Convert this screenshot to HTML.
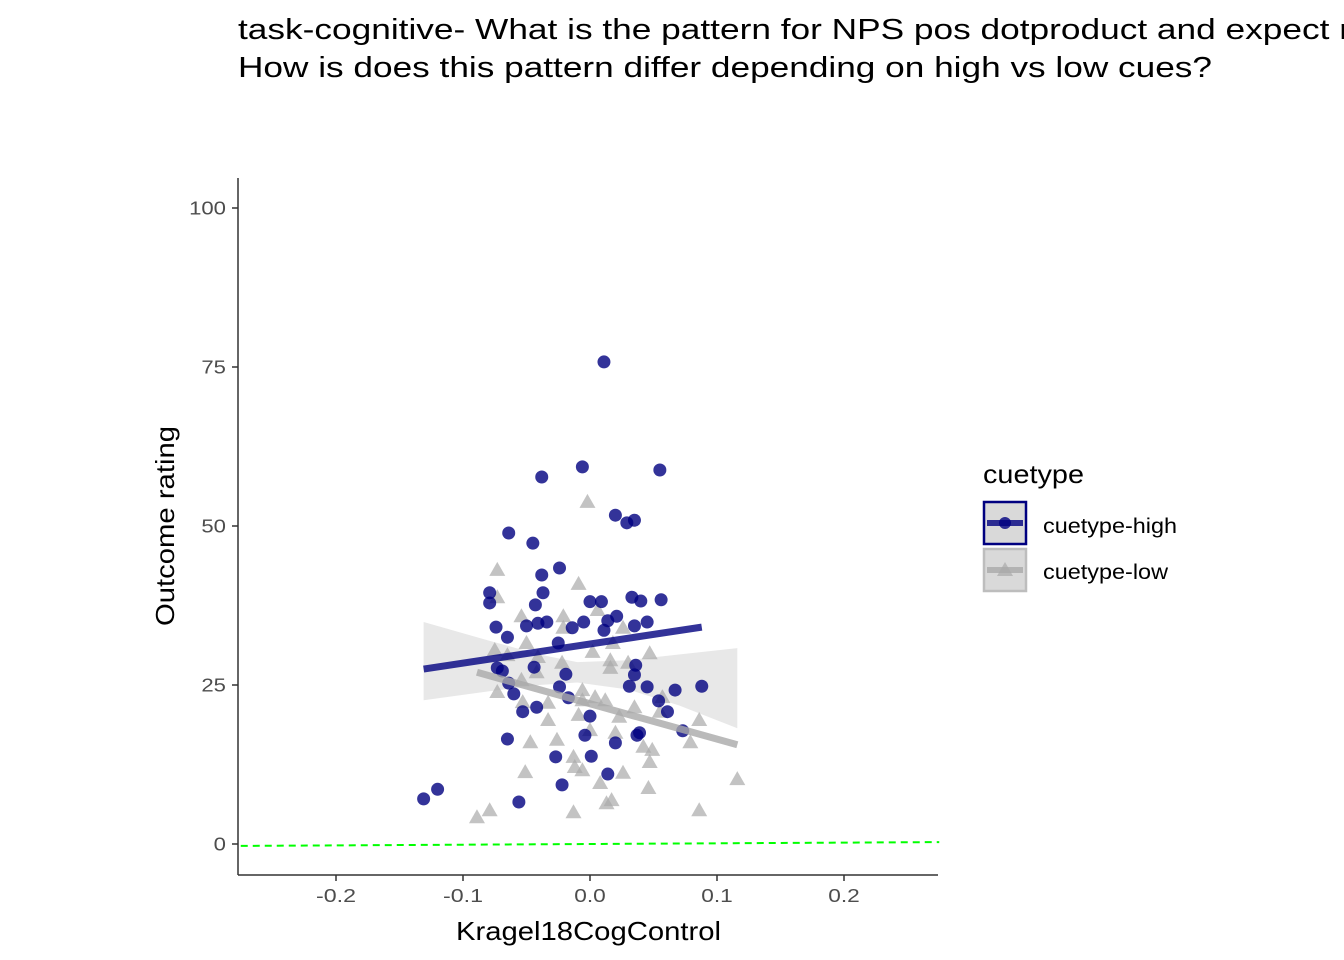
<!DOCTYPE html>
<html><head><meta charset="utf-8">
<style>
html,body{margin:0;padding:0;background:#fff;}
body{width:1344px;height:960px;overflow:hidden;position:relative;font-family:"Liberation Sans",Arial,sans-serif;}
</style></head>
<body>
<svg id="chart" width="1344" height="960" style="position:absolute;left:0;top:0" xmlns="http://www.w3.org/2000/svg">
<text x="238" y="39" font-size="29" font-family="Liberation Sans, sans-serif" textLength="1209" lengthAdjust="spacingAndGlyphs">task-cognitive- What is the pattern for NPS pos dotproduct and expect rating?</text>
<text x="238" y="77" font-size="29" font-family="Liberation Sans, sans-serif" textLength="974" lengthAdjust="spacingAndGlyphs">How is does this pattern differ depending on high vs low cues?</text>
</svg>
<script>
const xTicks=[-0.2,-0.1,0.0,0.1,0.2];
const xTickLabels=["-0.2","-0.1","0.0","0.1","0.2"];
const yTicks=[0,25,50,75,100];
const yTickLabels=["0","25","50","75","100"];
const highX=[0.011,-0.006,0.055,-0.038,0.020,0.029,0.035,-0.064,-0.045,-0.024,-0.038,-0.079,-0.079,-0.037,-0.043,0.000,0.009,0.033,0.040,0.056,-0.074,-0.065,-0.050,-0.041,-0.034,-0.014,-0.005,0.014,0.021,0.011,0.035,0.045,-0.025,-0.073,-0.069,-0.044,-0.019,0.036,0.035,-0.064,-0.060,-0.024,-0.017,0.031,0.045,0.067,0.088,0.054,0.061,-0.042,-0.053,0.000,0.073,-0.004,0.037,0.039,0.020,-0.065,-0.027,0.001,0.014,-0.022,-0.131,-0.120,-0.056];
const highY=[75.8,59.3,58.8,57.7,51.7,50.5,50.9,48.9,47.3,43.4,42.3,39.5,37.9,39.5,37.6,38.1,38.1,38.8,38.2,38.4,34.1,32.5,34.3,34.7,34.9,34.0,34.9,35.1,35.8,33.6,34.3,34.9,31.6,27.7,27.2,27.8,26.7,28.1,26.6,25.3,23.6,24.7,23.0,24.8,24.7,24.2,24.8,22.5,20.8,21.5,20.8,20.1,17.8,17.1,17.1,17.5,15.9,16.5,13.7,13.8,11.0,9.3,7.1,8.6,6.6];
const lowX=[-0.009,-0.002,-0.073,-0.073,-0.054,-0.021,0.006,0.026,-0.021,-0.050,-0.075,-0.065,-0.041,0.002,0.018,0.047,-0.022,0.016,0.016,0.030,-0.042,-0.054,-0.073,-0.006,0.004,0.012,-0.006,-0.053,-0.033,0.035,0.057,0.055,-0.009,-0.033,0.023,0.086,0.000,0.020,-0.047,-0.026,0.079,0.042,0.049,-0.013,0.047,-0.012,-0.006,-0.051,0.026,0.008,0.046,0.116,0.017,0.013,-0.013,0.086,-0.079,-0.089];
const lowY=[40.9,53.8,43.1,38.8,35.8,35.8,36.8,34.0,34.0,31.6,30.5,29.7,29.4,30.2,31.6,30.0,28.5,28.9,27.7,28.5,27.0,25.8,23.9,24.2,23.1,22.6,22.6,22.3,22.2,21.5,23.1,20.8,20.3,19.5,20.0,19.5,17.9,17.5,16.0,16.4,16.0,15.3,14.8,13.7,12.9,12.1,11.6,11.3,11.2,9.6,8.8,10.2,6.9,6.4,5.0,5.3,5.3,4.2];
const highFitX=[-0.131,0.088];
const highFitY=[27.5,34.1];
const lowFitX=[-0.089,0.116];
const lowFitY=[27.0,15.6];
const ribbonX=[-0.131,-0.08,-0.04,-0.01,0.03,0.07,0.116];
const ribbonHi=[34.9,32.0,29.8,28.6,28.9,29.8,30.8];
const ribbonLo=[22.6,24.0,25.0,25.4,24.3,21.8,18.2];
const refX=[-0.275,0.275];
const refY=[-0.3,0.3];

const NS="http://www.w3.org/2000/svg";
const svg=document.getElementById('chart');
const xs=v=>590+v*1270;
const ys=v=>844-v*6.36;
function mk(tag,attrs){const e=document.createElementNS(NS,tag);for(const k in attrs)e.setAttribute(k,attrs[k]);svg.appendChild(e);return e;}
const FF='Liberation Sans, sans-serif';

let pts=[];
for(let i=0;i<ribbonX.length;i++)pts.push(xs(ribbonX[i])+','+ys(ribbonHi[i]));
for(let i=ribbonX.length-1;i>=0;i--)pts.push(xs(ribbonX[i])+','+ys(ribbonLo[i]));
let rb=mk('polygon',{points:pts.join(' '),fill:'#bebebe','fill-opacity':0.35});



let rl=mk('line',{x1:xs(refX[0]),y1:ys(refY[0]),x2:xs(refX[1]),y2:ys(refY[1]),stroke:'#00ff00','stroke-width':2,'stroke-dasharray':'7,5'});



for(let i=0;i<lowX.length;i++){
  const cx=xs(lowX[i]),cy=ys(lowY[i]);
  const t=mk('polygon',{points:`${cx},${cy-8} ${cx-8},${cy+6} ${cx+8},${cy+6}`,fill:'#a9a9a9','fill-opacity':0.7});
  
  
}
for(let i=0;i<highX.length;i++){
  const c=mk('circle',{cx:xs(highX[i]),cy:ys(highY[i]),r:6.5,fill:'#000080','fill-opacity':0.8});
  
  
}
let hl=mk('line',{x1:xs(highFitX[0]),y1:ys(highFitY[0]),x2:xs(highFitX[1]),y2:ys(highFitY[1]),stroke:'#000080','stroke-opacity':0.8,'stroke-width':7});


let ll=mk('line',{x1:xs(lowFitX[0]),y1:ys(lowFitY[0]),x2:xs(lowFitX[1]),y2:ys(lowFitY[1]),stroke:'#a9a9a9','stroke-opacity':0.8,'stroke-width':7});



let ya=mk('line',{x1:238,y1:178,x2:238,y2:875,stroke:'#333','stroke-width':1.5});


let xa=mk('line',{x1:238,y1:875,x2:938,y2:875,stroke:'#333','stroke-width':1.5});


for(let i=0;i<xTicks.length;i++){
  const x=xs(xTicks[i]);
  const tk=mk('line',{x1:x,y1:875,x2:x,y2:881,stroke:'#333','stroke-width':1.5});
  
  
  const lab=xTickLabels[i];
  const tl=mk('text',{x:x,y:902,'text-anchor':'middle','font-size':18,fill:'#4d4d4d','font-family':FF,textLength:lab.length*10.5-(lab[0]==='-'?2:0),lengthAdjust:'spacingAndGlyphs'});
  tl.textContent=lab;
  
  
}
for(let i=0;i<yTicks.length;i++){
  const y=ys(yTicks[i]);
  const tk=mk('line',{x1:232,y1:y,x2:238,y2:y,stroke:'#333','stroke-width':1.5});
  
  
  const lab=yTickLabels[i];
  const tl=mk('text',{x:226,y:y+6.5,'text-anchor':'end','font-size':18,fill:'#4d4d4d','font-family':FF,textLength:lab.length*12.3,lengthAdjust:'spacingAndGlyphs'});
  tl.textContent=lab;
  
  
}
let xt=mk('text',{x:456,y:940,'font-size':26,fill:'#000','font-family':FF,textLength:265,lengthAdjust:'spacingAndGlyphs'});
xt.textContent='Kragel18CogControl';


let yt=mk('text',{x:-100,y:0,'font-size':26,fill:'#000','font-family':FF,textLength:200,lengthAdjust:'spacingAndGlyphs',transform:'translate(174,526) rotate(-90)'});
yt.textContent='Outcome rating';



let lt=mk('text',{x:983,y:483,'font-size':26,fill:'#000','font-family':FF,textLength:101,lengthAdjust:'spacingAndGlyphs'});
lt.textContent='cuetype';


let k1=mk('rect',{x:984,y:502,width:42,height:42,fill:'#d9d9d9',stroke:'#000080','stroke-width':2.5});


mk('line',{x1:987,y1:523,x2:1023,y2:523,stroke:'#000080','stroke-opacity':0.8,'stroke-width':6});
mk('circle',{cx:1005,cy:523,r:6,fill:'#000080','fill-opacity':0.8});
let k2=mk('rect',{x:984,y:549,width:42,height:42,fill:'#d9d9d9',stroke:'#bdbdbd','stroke-width':2.5});


mk('line',{x1:987,y1:570,x2:1023,y2:570,stroke:'#a9a9a9','stroke-opacity':0.8,'stroke-width':6});
mk('polygon',{points:'1005,562 997,576 1013,576',fill:'#a9a9a9','fill-opacity':0.7});
let l1=mk('text',{x:1043,y:533,'font-size':21,fill:'#000','font-family':FF,textLength:134,lengthAdjust:'spacingAndGlyphs'});
l1.textContent='cuetype-high';


let l2=mk('text',{x:1043,y:579,'font-size':21,fill:'#000','font-family':FF,textLength:125,lengthAdjust:'spacingAndGlyphs'});
l2.textContent='cuetype-low';


</script>
</body></html>
